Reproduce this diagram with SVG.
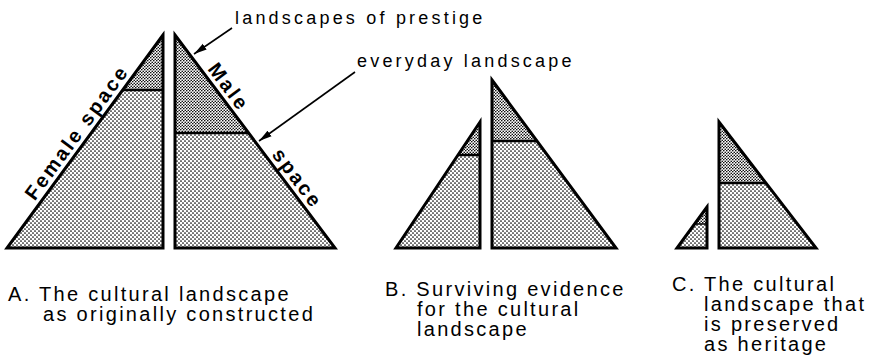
<svg xmlns="http://www.w3.org/2000/svg" width="877" height="360" viewBox="0 0 877 360">
  <defs>
    <!-- fine stipple for the landscapes of prestige -->
    <pattern id="dense" width="3" height="3" patternUnits="userSpaceOnUse">
      <rect width="3" height="3" fill="#fff"/>
      <circle cx="0.75" cy="0.75" r="0.8" fill="#000"/>
      <circle cx="2.25" cy="2.25" r="0.8" fill="#000"/>
    </pattern>
    <!-- coarser stipple for the everyday landscape -->
    <pattern id="sparse" width="4" height="4" patternUnits="userSpaceOnUse">
      <rect width="4" height="4" fill="#fff"/>
      <circle cx="1" cy="1" r="0.85" fill="#000"/>
      <circle cx="3" cy="3" r="0.85" fill="#000"/>
    </pattern>
    <marker id="arrow" markerWidth="14" markerHeight="8" refX="13" refY="4" orient="auto" markerUnits="userSpaceOnUse">
      <path d="M0,0.6 L13,4 L0,7.4 Z" fill="#000"/>
    </marker>
  </defs>
  <style>
    .outline { fill: none; stroke: #000; stroke-width: 3; stroke-linejoin: miter; }
    .divider { stroke: #000; stroke-width: 2.5; }
    .top { fill: url(#dense); }
    .base { fill: url(#sparse); }
    .label { font-family: "Liberation Sans", Arial, sans-serif; font-size: 18px; letter-spacing: 3.2px; fill: #000; }
    .caption { font-family: "Liberation Sans", Arial, sans-serif; font-size: 20px; letter-spacing: 2.3px; fill: #000; }
    .side { font-family: "Liberation Sans", Arial, sans-serif; font-size: 20px; font-weight: bold; letter-spacing: 2.5px; fill: #000; }
    .pointer { stroke: #000; stroke-width: 1.6; fill: none; }
  </style>

  <rect width="877" height="360" fill="#fff"/>

  <!-- A: female half -->
  <g id="a-female">
    <polygon class="top" points="163,35 123,90 163,90"/>
    <polygon class="base" points="123,90 7,248 163,248 163,90"/>
    <line class="divider" x1="123" y1="90" x2="163" y2="90"/>
    <polygon class="outline" points="163,35 7,248 163,248"/>
    <text class="side" x="34.8" y="201.5" transform="rotate(-53.9 34.8 201.5)">Female space</text>
  </g>

  <!-- A: male half -->
  <g id="a-male">
    <polygon class="top" points="175,35 248.6,133 175,133"/>
    <polygon class="base" points="175,133 248.6,133 335,248 175,248"/>
    <line class="divider" x1="175" y1="133" x2="248.6" y2="133"/>
    <polygon class="outline" points="175,35 335,248 175,248"/>
    <text class="side" x="207" y="69.3" transform="rotate(53.1 207 69.3)">Male</text>
    <text class="side" x="271.3" y="154.8" transform="rotate(53.1 271.3 154.8)">space</text>
  </g>

  <!-- B: surviving evidence -->
  <g id="b-female">
    <polygon class="top" points="480,122 458,155 480,155"/>
    <polygon class="base" points="458,155 396,248 480,248 480,155"/>
    <line class="divider" x1="458" y1="155" x2="480" y2="155"/>
    <polygon class="outline" points="480,122 396,248 480,248"/>
  </g>
  <g id="b-male">
    <polygon class="top" points="492,80 537,141 492,141"/>
    <polygon class="base" points="492,141 537,141 616,248 492,248"/>
    <line class="divider" x1="492" y1="141" x2="537" y2="141"/>
    <polygon class="outline" points="492,80 616,248 492,248"/>
  </g>

  <!-- C: preserved as heritage -->
  <g id="c-female">
    <polygon class="top" points="707,207 694.6,224 707,224"/>
    <polygon class="base" points="694.6,224 677,248 707,248 707,224"/>
    <line class="divider" x1="694.6" y1="224" x2="707" y2="224" style="stroke-width:1.5"/>
    <polygon class="outline" points="707,207 677,248 707,248"/>
  </g>
  <g id="c-male">
    <polygon class="top" points="719,122 766,183 719,183"/>
    <polygon class="base" points="719,183 766,183 816,248 719,248"/>
    <line class="divider" x1="719" y1="183" x2="766" y2="183"/>
    <polygon class="outline" points="719,122 816,248 719,248"/>
  </g>

  <!-- annotations -->
  <g id="label-prestige">
    <text class="label" x="235" y="24">landscapes of prestige</text>
  </g>
  <g id="label-everyday">
    <text class="label" x="357" y="67">everyday landscape</text>
  </g>

  <g id="connectors">
    <line class="pointer" x1="232" y1="28" x2="194" y2="54" marker-end="url(#arrow)"/>
    <line class="pointer" x1="355" y1="72" x2="259" y2="141" marker-end="url(#arrow)"/>
  </g>

  <!-- captions -->
  <g id="caption-a">
    <text class="caption" x="8" y="301">A. The cultural landscape</text>
    <text class="caption" x="43" y="321">as originally constructed</text>
  </g>
  <g id="caption-b">
    <text class="caption" x="385" y="296">B. Surviving evidence</text>
    <text class="caption" x="417" y="316">for the cultural</text>
    <text class="caption" x="417" y="336">landscape</text>
  </g>
  <g id="caption-c">
    <text class="caption" x="672" y="291">C. The cultural</text>
    <text class="caption" x="704" y="311">landscape that</text>
    <text class="caption" x="704" y="331">is preserved</text>
    <text class="caption" x="704" y="351">as heritage</text>
  </g>
</svg>
